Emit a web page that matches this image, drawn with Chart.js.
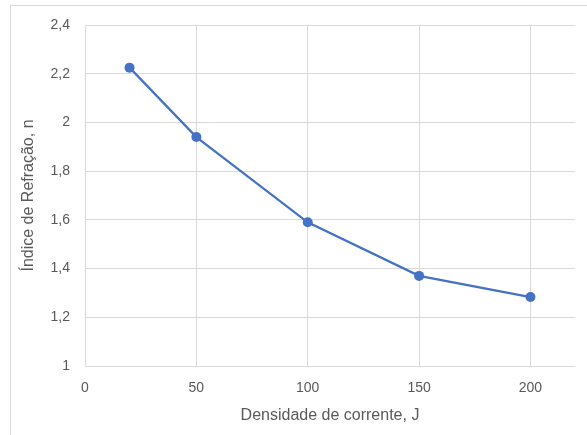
<!DOCTYPE html>
<html>
<head>
<meta charset="utf-8">
<script src="https://cdn.jsdelivr.net/npm/chart.js@4/dist/chart.umd.min.js"></script>
<style>
  html, body { margin: 0; padding: 0; background: #ffffff; }
  #wrap { position: relative; width: 587px; height: 435px; }
</style>
</head>
<body>
<div id="wrap"><canvas id="chart" width="587" height="435"></canvas></div>
<script>
// Current density J and the measured refractive index n
const densidade = [20, 50, 100, 150, 200];
const indice = [2.225, 1.94, 1.59, 1.37, 1.283];
const xTickValues = [0, 50, 100, 150, 200];

const FONT = '"Liberation Sans", Arial, sans-serif';
const GRID = '#d9d9d9';
const TEXT = '#595959';
const BLUE = '#4472C4';

const fmt = v => String(Math.round(v * 10) / 10).replace('.', ',');

// Light frame around the chart area
const framePlugin = {
  id: 'frame',
  beforeDraw(chart) {
    const ctx = chart.ctx;
    ctx.save();
    ctx.strokeStyle = GRID;
    ctx.lineWidth = 1;
    ctx.strokeRect(10.5, 5.5, 620, 460);
    ctx.restore();
  }
};

new Chart(document.getElementById('chart'), {
  type: 'scatter',
  data: {
    datasets: [{
      data: densidade.map((x, i) => ({ x, y: indice[i] })),
      showLine: true,
      borderColor: BLUE,
      backgroundColor: BLUE,
      borderWidth: 2.25,
      pointRadius: 5,
      pointHoverRadius: 5,
      pointBorderWidth: 0,
      tension: 0
    }]
  },
  options: {
    responsive: false,
    animation: false,
    layout: { padding: { left: 10, right: 12, top: 25, bottom: 0 } },
    plugins: { legend: { display: false }, tooltip: { enabled: false } },
    scales: {
      x: {
        type: 'linear',
        min: 0,
        max: 220,
        afterBuildTicks(scale) {
          scale.ticks = xTickValues.map(v => ({ value: v }));
        },
        afterFit(scale) { scale.height = 69; },
        grid: { color: GRID, lineWidth: 1, drawTicks: false },
        border: { display: false },
        ticks: {
          color: TEXT,
          font: { family: FONT, size: 14 },
          padding: 14,
          maxRotation: 0,
          callback: v => fmt(v)
        },
        title: {
          display: true,
          text: 'Densidade de corrente, J',
          color: TEXT,
          font: { family: FONT, size: 16 },
          padding: { top: 0, bottom: 10 }
        }
      },
      y: {
        min: 1,
        max: 2.4,
        afterFit(scale) { scale.width = 75; },
        grid: { color: GRID, lineWidth: 1, drawTicks: false },
        border: { display: false },
        ticks: {
          stepSize: 0.2,
          color: TEXT,
          font: { family: FONT, size: 14 },
          padding: 15,
          callback: v => fmt(v)
        },
        title: {
          display: true,
          text: 'Índice de Refração, n',
          color: TEXT,
          font: { family: FONT, size: 16 },
          padding: { top: 9, bottom: 0 }
        }
      }
    }
  },
  plugins: [framePlugin]
});
</script>
</body>
</html>
